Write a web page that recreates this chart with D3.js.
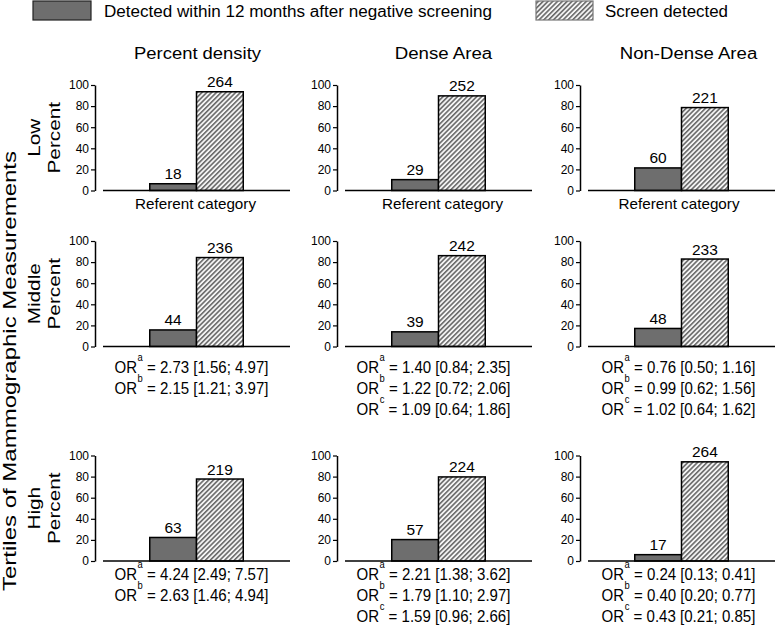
<!DOCTYPE html>
<html>
<head>
<meta charset="utf-8">
<script src="https://cdn.jsdelivr.net/npm/d3@7"></script>
<style>
  html, body { margin: 0; padding: 0; background: #fff; }
  svg { display: block; font-family: "Liberation Sans", Arial, Helvetica, sans-serif; }
</style>
</head>
<body>
<svg id="chart" width="776" height="630"></svg>
<script>
// ---------------- DATA ----------------
const columnTitles = ["Percent density", "Dense Area", "Non-Dense Area"];
const rowLabels = [["Low", "Percent"], ["Middle", "Percent"], ["High", "Percent"]];
const axisTitle = "Tertiles of Mammographic Measurements";
const seriesNames = ["Detected within 12 months after negative screening", "Screen detected"];
const barKeys = ["interval", "screen"];
const yTicks = [0, 20, 40, 60, 80, 100];

// counts shown above bars [row][col]
const intervalCounts = [[18, 29, 60], [44, 39, 48], [63, 57, 17]];
const screenCounts = [[264, 252, 221], [236, 242, 233], [219, 224, 264]];
// bar heights (percent) [row][col]
const intervalPercent = [[6.4, 10.3, 21.4], [15.7, 13.9, 17.1], [22.3, 20.3, 6.0]];
const screenPercent = [[93.6, 89.7, 78.6], [84.3, 86.1, 82.9], [77.7, 79.7, 94.0]];

// odds ratio annotations [row][col] -> lines of [superscript, text]
const oddsRatios = [
  [[["", "Referent category"]], [["", "Referent category"]], [["", "Referent category"]]],
  [
    [["a", "2.73 [1.56; 4.97]"], ["b", "2.15 [1.21; 3.97]"]],
    [["a", "1.40 [0.84; 2.35]"], ["b", "1.22 [0.72; 2.06]"], ["c", "1.09 [0.64; 1.86]"]],
    [["a", "0.76 [0.50; 1.16]"], ["b", "0.99 [0.62; 1.56]"], ["c", "1.02 [0.64; 1.62]"]]
  ],
  [
    [["a", "4.24 [2.49; 7.57]"], ["b", "2.63 [1.46; 4.94]"]],
    [["a", "2.21 [1.38; 3.62]"], ["b", "1.79 [1.10; 2.97]"], ["c", "1.59 [0.96; 2.66]"]],
    [["a", "0.24 [0.13; 0.41]"], ["b", "0.40 [0.20; 0.77]"], ["c", "0.43 [0.21; 0.85]"]]
  ]
];

// ---------------- LAYOUT ----------------
const colLeft = [103, 345, 588];
const panelW = 187;
const rowZero = [190.5, 346.5, 561];
const panelH = 105.5;
const axisGap = 8;
const noteFirstOffset = [18, 26, 18.5];
const noteStep = 21.3;
const orShift = [-5, -5, -3];
const refShift = [-1, 4, -2.5];
const orWidth = 154;
const darkFill = "#6e6e6e";

const svg = d3.select("#chart");

function fit(sel, len) {
  return sel.attr("textLength", len).attr("lengthAdjust", "spacingAndGlyphs");
}

const defs = svg.append("defs");
const pat = defs.append("pattern")
  .attr("id", "hatch")
  .attr("patternUnits", "userSpaceOnUse")
  .attr("width", 3.4).attr("height", 3.4)
  .attr("patternTransform", "rotate(45)");
pat.append("rect").attr("width", 3.4).attr("height", 3.4).attr("fill", "#f4f4f4");
pat.append("line").attr("x1", 0.8).attr("y1", 0).attr("x2", 0.8).attr("y2", 3.4)
  .attr("stroke", "#4a4a4a").attr("stroke-width", 1.3);

const fills = { interval: darkFill, screen: "url(#hatch)" };

// ---------------- LEGEND ----------------
const legend = svg.append("g");
const legendItems = [
  { x: 33, w: 58, tx: 104, len: 388, name: seriesNames[0], key: "interval" },
  { x: 536, w: 57, tx: 605, len: 123, name: seriesNames[1], key: "screen" }
];
legendItems.forEach(it => {
  legend.append("rect").attr("x", it.x).attr("y", 1).attr("width", it.w).attr("height", 19)
    .attr("fill", fills[it.key]).attr("stroke", it.key === "interval" ? "#222" : "#777").attr("stroke-width", 1.2);
  fit(legend.append("text").attr("x", it.tx).attr("y", 16.5).attr("font-size", 16).text(it.name), it.len);
});

// ---------------- COLUMN TITLES ----------------
const titleCenter = [197.5, 443.5, 688.5];
const titleLen = [127, 97.5, 137.5];
columnTitles.forEach((t, c) => {
  fit(svg.append("text")
    .attr("x", titleCenter[c])
    .attr("y", 58.5)
    .attr("text-anchor", "middle")
    .attr("font-size", 16)
    .text(t), titleLen[c]);
});

// ---------------- AXIS TITLE + ROW LABELS ----------------
fit(svg.append("text")
  .attr("transform", "translate(16,371) rotate(-90)")
  .attr("text-anchor", "middle")
  .attr("font-size", 18)
  .text(axisTitle), 440);

rowLabels.forEach((lines, r) => {
  const cy = rowZero[r] - panelH / 2;
  lines.forEach((l, i) => {
    const t = svg.append("text")
      .attr("transform", `translate(${40 + i * 20},${cy}) rotate(-90)`)
      .attr("text-anchor", "middle")
      .attr("font-size", 17)
      .text(l);
    fit(t, t.node().getComputedTextLength() * 1.22);
  });
});

// ---------------- PANELS ----------------
for (let r = 0; r < 3; r++) {
  for (let c = 0; c < 3; c++) {
    const g = svg.append("g");
    const x = d3.scaleBand()
      .domain(["pre", ...barKeys, "post"])
      .range([colLeft[c], colLeft[c] + panelW])
      .padding(0);
    const y = d3.scaleLinear().domain([0, 100]).range([rowZero[r], rowZero[r] - panelH]);

    // y axis
    const ax = g.append("g")
      .attr("transform", `translate(${colLeft[c] - axisGap},0)`)
      .call(d3.axisLeft(y).tickValues(yTicks).tickSize(4).tickSizeOuter(0).tickPadding(2));
    ax.select(".domain").attr("stroke", "#000").attr("stroke-width", 1.5);
    ax.selectAll(".tick line").attr("stroke", "#000").attr("stroke-width", 1.2);
    ax.selectAll(".tick text").attr("font-size", 12).attr("font-family", "Liberation Sans, Arial, sans-serif").attr("fill", "#000");

    const vals = { interval: intervalPercent[r][c], screen: screenPercent[r][c] };
    const counts = { interval: intervalCounts[r][c], screen: screenCounts[r][c] };

    barKeys.forEach(k => {
      g.append("rect")
        .attr("x", x(k)).attr("width", x.bandwidth())
        .attr("y", y(vals[k])).attr("height", y(0) - y(vals[k]))
        .attr("fill", fills[k]).attr("stroke", "#000").attr("stroke-width", 1.5);
      g.append("text")
        .attr("x", x(k) + x.bandwidth() / 2)
        .attr("y", y(vals[k]) - 4.5)
        .attr("text-anchor", "middle")
        .attr("font-size", 15.5)
        .text(counts[k]);
    });

    // baseline
    g.append("line")
      .attr("x1", x.range()[0]).attr("x2", x.range()[1])
      .attr("y1", y(0)).attr("y2", y(0))
      .attr("stroke", "#000").attr("stroke-width", 1.5);

    // notes
    const cx = x("screen");
    oddsRatios[r][c].forEach((ln, i) => {
      const ly = y(0) + noteFirstOffset[r] + i * noteStep;
      if (ln[0] === "") {
        fit(g.append("text")
          .attr("x", cx + refShift[c]).attr("y", ly)
          .attr("text-anchor", "middle")
          .attr("font-size", 15)
          .text(ln[1]), 121);
      } else {
        const lg = g.append("g");
        const t = lg.append("text")
          .attr("x", 0).attr("y", 0)
          .attr("text-anchor", "middle")
          .attr("font-size", 16);
        t.append("tspan").text("OR");
        t.append("tspan").attr("font-size", 10).attr("dy", -12).attr("dx", 0.5).text(ln[0]);
        t.append("tspan").attr("dy", 12).text(" = " + ln[1]);
        const w = t.node().getBBox().width;
        lg.attr("transform", `translate(${cx + orShift[c]},${ly}) scale(${orWidth / w},1)`);
      }
    });
  }
}
</script>
</body>
</html>
